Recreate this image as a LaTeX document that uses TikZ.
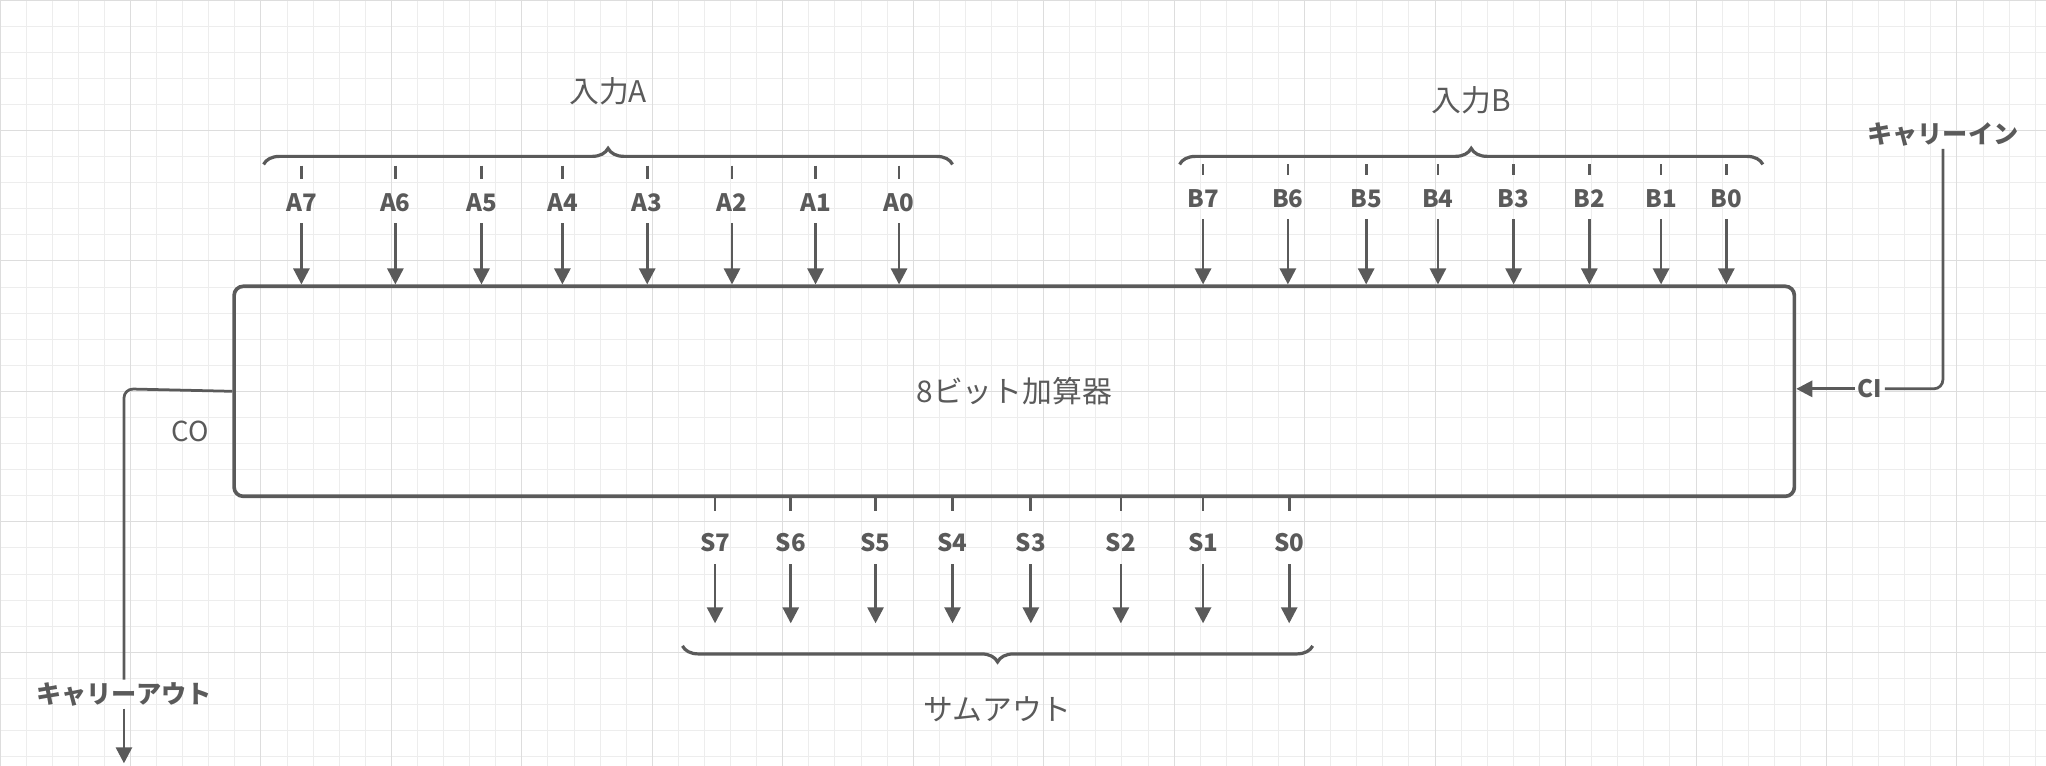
\documentclass[tikz,border=0pt]{standalone}
\usepackage{fontspec}
\setmainfont{Noto Sans CJK JP}
\usetikzlibrary{positioning,arrows.meta,decorations.pathreplacing,calc}
\definecolor{lineGray}{HTML}{5A5A5A}
\definecolor{gridLt}{HTML}{EDEDED}
\definecolor{gridMd}{HTML}{DDDDDD}
\tikzset{
  pinlbl/.style={font=\fontsize{10.5}{12}\selectfont\bfseries, text=lineGray, inner sep=1pt},
  grplbl/.style={font=\fontsize{13}{15}\selectfont, text=lineGray},
  pinarrow/.style={-{Triangle[length=7pt,width=7pt]}, line width=1.2pt, lineGray, shorten <=4pt},
  pintick/.style={line width=1.2pt, lineGray},
  grpbrace/.style={decorate, decoration={brace, amplitude=7pt}, line width=1.4pt, lineGray},
}
\begin{document}
\begin{tikzpicture}[x=0.02cm, y=-0.02cm]
\useasboundingbox (0,0) rectangle (1568,587);
%% Grid
\draw[gridLt] (0,0) grid[step=0.4cm] (1568,587);
\draw[gridMd] (0,0) grid[step=2cm] (1568,587);

%% Adder
\node[draw=lineGray, line width=1.6pt, rounded corners=4pt, minimum width=23.92cm,
      minimum height=3.22cm, anchor=north west, font=\fontsize{13}{15}\selectfont,
      text=lineGray] (adder) at (178,218) {8ビット加算器};

%% Input A
\foreach \x/\n in {231/7,303/6,369/5,431/4,496/3,561/2,625/1,689/0}{
  \node[pinlbl] (a\n) at (\x,155) {A\n};
  \draw[pintick] (\x,127) -- (\x,137);
  \draw[pinarrow] (a\n.south) -- (a\n |- adder.north);
}
\draw[grpbrace] (202,126) -- node[grplbl, above=22pt] (inA) {入力A} (730,126);

%% Input B
\foreach \x/\n in {922/7,987/6,1047/5,1102/4,1160/3,1218/2,1273/1,1323/0}{
  \node[pinlbl] (b\n) at (\x,152) {B\n};
  \draw[pintick] (\x,126) -- (\x,134);
  \draw[pinarrow] (b\n.south) -- (b\n |- adder.north);
}
\draw[grpbrace] (904,126) -- node[grplbl, above=18pt] (inB) {入力B} (1351,126);

%% Sum out
\foreach \x/\n in {548/7,606/6,671/5,730/4,790/3,859/2,922/1,988/0}{
  \node[pinlbl] (s\n) at (\x,416) {S\n};
  \draw[pintick] (s\n |- adder.south) -- ++(0,10);
  \draw[pinarrow] (s\n.south) -- ++(0,-1.05cm);
}
\draw[grpbrace] (1006,495) -- node[grplbl, below=18pt] (sumout) {サムアウト} (523,495);

%% Carry in
\node[pinlbl, font=\fontsize{11}{13}\selectfont\bfseries] (cin) at (1489,103) {キャリーイン};
\node[pinlbl] (ci) at (1433,298) {CI};
\draw[pintick, rounded corners=4pt] (cin.south) -- (1489,298) -- (ci.east);
\draw[pinarrow, shorten <=0pt] (ci.west) -- (ci.west -| adder.east);

%% Carry out
\node[grplbl, font=\fontsize{12}{14}\selectfont] (co) at (146,331) {CO};
\node[pinlbl, font=\fontsize{11}{13}\selectfont\bfseries] (cout) at (95,532) {キャリーアウト};
\draw[pintick, rounded corners=4pt] (adder.west) -- (95,298) -- (cout.north);
\draw[pinarrow, shorten <=0pt] (cout.south) -- (95,585);
\end{tikzpicture}
\end{document}
